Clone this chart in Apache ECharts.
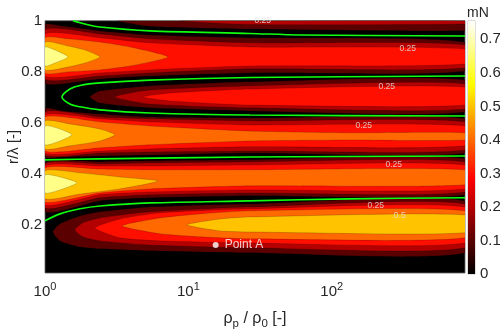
<!DOCTYPE html>
<html><head><meta charset="utf-8">
<script src="https://cdn.jsdelivr.net/npm/echarts@6/dist/echarts.min.js"></script>
<style>html,body{margin:0;padding:0;background:#fff}#c{width:500px;height:331px}</style>
</head><body><div id="c"></div>
<script>
const FONT = 'Liberation Sans, Arial, Helvetica, sans-serif';
const xMin = 1, xMax = 850;
const yMin = 0.01, yMax = 1;
const yTicks = [0.2, 0.4, 0.6, 0.8, 1];
const cbMax = 0.7556;
const cbTicks = [0, 0.1, 0.2, 0.3, 0.4, 0.5, 0.6, 0.7];
const levelColors = ['#000000', '#5a0000', '#b40000', '#ff0f00', '#ff6900', '#ffc300', '#ffff88'];

// filled-contour bands: [level, [[x, r_low, r_high], ...]]
const lobeA = [
  [1, [[3.17, 1, 1], [5.39, 0.978, 1], [26.8, 0.967, 1], [850, 0.962, 1]]],
  [2, [[8.74, 1, 1], [26.8, 0.985, 1], [850, 0.987, 1]]]
];
const lobeB = [
  [1, [[1, 0.756, 0.983], [1.314, 0.752, 0.979], [2.417, 0.771, 0.960], [5.39, 0.783, 0.944], [26.8, 0.795, 0.933], [850, 0.803, 0.916]]],
  [2, [[1, 0.771, 0.964], [2.417, 0.783, 0.948], [5.39, 0.795, 0.929], [26.8, 0.811, 0.913], [850, 0.815, 0.905]]],
  [3, [[1, 0.783, 0.948], [2.417, 0.795, 0.933], [5.39, 0.807, 0.913], [26.8, 0.822, 0.897], [850, 0.830, 0.889]]],
  [4, [[1, 0.795, 0.933], [1.446, 0.799, 0.929], [2.417, 0.807, 0.916], [3.91, 0.822, 0.897], [7.19, 0.858, 0.858]]],
  [5, [[1, 0.807, 0.916], [1.446, 0.818, 0.901], [1.90, 0.834, 0.885], [2.417, 0.858, 0.858]]],
  [6, [[1, 0.822, 0.897], [1.174, 0.834, 0.885], [1.446, 0.858, 0.858]]]
];
const lobeC = [
  [1, [[2.059, 0.701, 0.701], [2.417, 0.677, 0.724], [5.39, 0.658, 0.744], [26.8, 0.646, 0.760], [850, 0.642, 0.767]]],
  [2, [[3.075, 0.701, 0.701], [5.39, 0.673, 0.728], [26.8, 0.658, 0.744], [850, 0.654, 0.752]]],
  [3, [[4.82, 0.701, 0.701], [7.43, 0.685, 0.716], [26.8, 0.669, 0.732], [850, 0.669, 0.740]]]
];
const lobeD = [
  [1, [[1, 0.465, 0.654], [1.314, 0.465, 0.646], [2.417, 0.469, 0.634], [5.39, 0.473, 0.622], [26.8, 0.481, 0.618], [850, 0.481, 0.615]]],
  [2, [[1, 0.473, 0.642], [2.417, 0.481, 0.622], [5.39, 0.485, 0.615], [26.8, 0.489, 0.607], [850, 0.493, 0.603]]],
  [3, [[1, 0.481, 0.630], [2.417, 0.489, 0.615], [5.39, 0.497, 0.603], [26.8, 0.505, 0.591], [850, 0.509, 0.587]]],
  [4, [[1, 0.489, 0.622], [2.417, 0.501, 0.603], [5.39, 0.513, 0.587], [26.8, 0.528, 0.567], [133.5, 0.532, 0.560], [850, 0.532, 0.560]]],
  [5, [[1, 0.497, 0.607], [1.494, 0.509, 0.595], [2.417, 0.528, 0.575], [3.075, 0.552, 0.552]]],
  [6, [[1, 0.513, 0.587], [1.272, 0.528, 0.575], [1.543, 0.552, 0.552]]]
];
const lobeE = [
  [1, [[1, 0.250, 0.442], [2.417, 0.293, 0.446], [5.39, 0.305, 0.450], [26.8, 0.313, 0.454], [850, 0.317, 0.458]]],
  [2, [[1, 0.265, 0.438], [2.417, 0.305, 0.438], [5.39, 0.317, 0.442], [26.8, 0.324, 0.446], [850, 0.328, 0.446]]],
  [3, [[1, 0.277, 0.430], [2.417, 0.317, 0.430], [5.39, 0.328, 0.430], [26.8, 0.336, 0.434], [850, 0.340, 0.434]]],
  [4, [[1, 0.289, 0.422], [2.417, 0.324, 0.418], [5.39, 0.340, 0.415], [26.8, 0.352, 0.415], [850, 0.356, 0.415]]],
  [5, [[1, 0.301, 0.411], [1.754, 0.320, 0.403], [3.33, 0.340, 0.387], [6.13, 0.371, 0.371]]],
  [6, [[1, 0.324, 0.395], [1.272, 0.336, 0.387], [1.671, 0.364, 0.364]]]
];
const lobeF = [
  [1, [[1.137, 0.171, 0.171], [1.272, 0.136, 0.203], [1.754, 0.112, 0.234], [2.417, 0.105, 0.250], [5.39, 0.097, 0.269], [26.8, 0.089, 0.281], [850, 0.089, 0.293]]],
  [2, [[1.618, 0.179, 0.179], [1.840, 0.152, 0.207], [2.417, 0.136, 0.226], [5.39, 0.120, 0.250], [26.8, 0.109, 0.269], [850, 0.109, 0.281]]],
  [3, [[2.231, 0.187, 0.187], [3.33, 0.148, 0.222], [6.33, 0.136, 0.246], [26.8, 0.128, 0.262], [850, 0.128, 0.269]]],
  [4, [[3.44, 0.195, 0.195], [6.33, 0.164, 0.226], [12.0, 0.152, 0.242], [26.8, 0.144, 0.254], [850, 0.148, 0.254]]],
  [5, [[9.76, 0.199, 0.199], [16.6, 0.175, 0.222], [26.8, 0.171, 0.230], [850, 0.168, 0.238]]]
];

// green zero lines [x, r]
const green1 = [[1.567, 1.0], [1.90, 0.987], [2.417, 0.975], [5.39, 0.960], [26.8, 0.950], [59.7, 0.944], [850, 0.940]];
const green2 = [[850, 0.783], [26.8, 0.777], [5.39, 0.767], [2.417, 0.756], [1.754, 0.746], [1.494, 0.732], [1.314, 0.701], [1.494, 0.673], [1.754, 0.662], [2.417, 0.650], [5.39, 0.638], [26.8, 0.630], [850, 0.626]];
const green3 = [[1, 0.454], [2.417, 0.458], [26.8, 0.465], [850, 0.469]];
const green4 = [[1, 0.215], [1.272, 0.242], [1.754, 0.262], [2.417, 0.273], [5.39, 0.285], [26.8, 0.293], [133.5, 0.301], [850, 0.305]];

const labels025 = [[33.0, 0.999], [338.6, 0.889], [241.7, 0.740], [167.1, 0.587], [270.4, 0.434], [202.6, 0.273]];
const labels05 = [[297.8, 0.234]];
const pointA = [15.5, 0.120];

const allBands = [].concat(lobeA, lobeB, lobeC, lobeD, lobeE, lobeF)
  .map(b => ({ level: b[0], cols: b[1] }))
  .sort((a, b) => a.level - b.level);

function greenSeries(d) {
  return { type: 'line', data: d, xAxisIndex: 0, yAxisIndex: 0, showSymbol: false, smooth: 0.3,
    lineStyle: { color: '#10ff10', width: 1.6 }, z: 4, silent: true, clip: true };
}

const TXT = '#262626';
const chart = echarts.init(document.getElementById('c'), null, { renderer: 'canvas' });
chart.setOption({
  animation: false,
  textStyle: { fontFamily: FONT },
  title: { text: 'mN', left: 462, top: 1, textStyle: { fontSize: 14, fontWeight: 'normal', color: TXT, fontFamily: FONT } },
  grid: [
    { left: 45, top: 20.7, width: 420, height: 252.3, show: true, backgroundColor: '#000', borderColor: '#666', borderWidth: 0.8, containLabel: false, outerBoundsMode: 'none' },
    { left: 468, top: 20.7, width: 7, height: 253.3, show: true, backgroundColor: 'transparent', borderColor: '#999', borderWidth: 0.6, containLabel: false, outerBoundsMode: 'none' }
  ],
  xAxis: [
    { type: 'log', logBase: 10, min: xMin, max: xMax, gridIndex: 0,
      axisLine: { show: false }, axisTick: { show: false }, splitLine: { show: false },
      axisLabel: { margin: 8, color: TXT,
        formatter: v => { const l = Math.log10(v); return Math.abs(l - Math.round(l)) < 1e-6 ? '{b|10}{s|' + Math.round(l) + '}' : ''; },
        rich: { b: { fontSize: 15, lineHeight: 21, color: TXT, fontFamily: FONT }, s: { fontSize: 11, lineHeight: 11, verticalAlign: 'top', color: TXT, fontFamily: FONT } } },
      name: '{t|ρ}{s|p}{t| / ρ}{s|0}{t| [-]}', nameLocation: 'middle', nameGap: 35, nameMoveOverlap: false,
      nameTextStyle: { rich: { t: { fontSize: 16, lineHeight: 22, color: TXT, fontFamily: FONT }, s: { fontSize: 11.5, lineHeight: 11, verticalAlign: 'bottom', color: TXT, fontFamily: FONT } } } },
    { type: 'category', data: ['cb'], gridIndex: 1, show: false }
  ],
  yAxis: [
    { type: 'value', min: yMin, max: yMax, gridIndex: 0,
      axisLine: { show: false }, axisTick: { show: false }, splitLine: { show: false },
      axisLabel: { customValues: yTicks, fontSize: 15, color: TXT, margin: 3, fontFamily: FONT },
      name: 'r/λ [-]', nameLocation: 'middle', nameGap: 24, nameMoveOverlap: false,
      nameTextStyle: { fontSize: 15, color: TXT, fontFamily: FONT } },
    { type: 'value', min: 0, max: cbMax, gridIndex: 1, position: 'right',
      axisLine: { show: false }, axisTick: { show: false }, splitLine: { show: false },
      axisLabel: { customValues: cbTicks, fontSize: 15, color: TXT, margin: 5, fontFamily: FONT } }
  ],
  series: [
    { type: 'custom', xAxisIndex: 0, yAxisIndex: 0, clip: true, silent: true, z: 1,
      data: allBands.map(b => [b.cols[0][0], b.cols[0][2]]),
      renderItem: (params, api) => {
        const b = allBands[params.dataIndex];
        const upper = b.cols.map(c => api.coord([c[0], c[2]]));
        const lower = b.cols.filter(c => c[1] !== c[2]).reverse().map(c => api.coord([c[0], c[1]]));
        return { type: 'polygon', shape: { points: upper.concat(lower), smooth: 0.2 },
          style: { fill: levelColors[b.level], stroke: 'rgba(0,0,0,0.35)', lineWidth: 0.5 } };
      } },
    greenSeries(green1), greenSeries(green2), greenSeries(green3), greenSeries(green4),
    { type: 'scatter', xAxisIndex: 0, yAxisIndex: 0, silent: true, z: 5, symbolSize: 1,
      itemStyle: { color: 'rgba(0,0,0,0)' },
      data: labels025.map(p => ({ value: p, name: '0.25' })).concat(labels05.map(p => ({ value: p, name: '0.5' }))),
      label: { show: true, position: 'inside', formatter: '{b}', color: '#e4e4e4', fontSize: 8.5, fontFamily: FONT } },
    { type: 'scatter', xAxisIndex: 0, yAxisIndex: 0, silent: true, z: 6, symbolSize: 6,
      itemStyle: { color: '#ffffff' }, data: [pointA],
      label: { show: true, position: 'right', distance: 6, formatter: 'Point A', color: '#ffffff', fontSize: 12, fontFamily: FONT } },
    { type: 'bar', xAxisIndex: 1, yAxisIndex: 1, data: [cbMax], barWidth: '100%', silent: true,
      itemStyle: { color: new echarts.graphic.LinearGradient(0, 1, 0, 0, [
        { offset: 0, color: '#000000' }, { offset: 0.375, color: '#ff0000' }, { offset: 0.75, color: '#ffff00' }, { offset: 1, color: '#ffffff' }]) } }
  ]
});
</script></body></html>
